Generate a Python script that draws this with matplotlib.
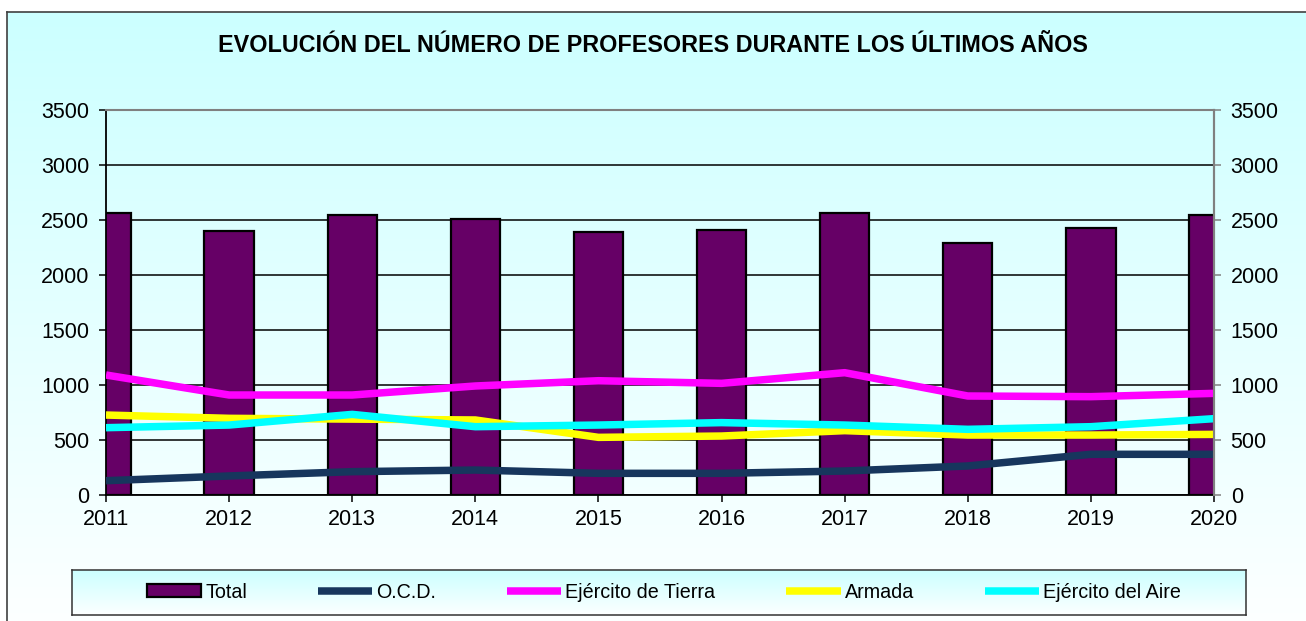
import numpy as np
import matplotlib
matplotlib.use("Agg")
import matplotlib.pyplot as plt
from matplotlib.colors import LinearSegmentedColormap

plt.rcParams['font.family'] = ['Liberation Sans', 'DejaVu Sans']

years = [2011, 2012, 2013, 2014, 2015, 2016, 2017, 2018, 2019, 2020]
total = [2561, 2403, 2545, 2512, 2394, 2409, 2561, 2294, 2427, 2548]
ocd = [130, 173, 212, 227, 197, 197, 218, 264, 370, 370]
tierra = [1091, 909, 909, 991, 1039, 1015, 1112, 900, 894, 924]
armada = [727, 697, 690, 682, 524, 536, 585, 545, 545, 551]
aire = [612, 636, 733, 621, 636, 658, 636, 597, 621, 694]
yticks = [0, 500, 1000, 1500, 2000, 2500, 3000, 3500]
title = "EVOLUCIÓN DEL NÚMERO DE PROFESORES DURANTE LOS ÚLTIMOS AÑOS"

W, H = 1306, 621
fig = plt.figure(figsize=(W / 100, H / 100), dpi=100)
fig.patch.set_facecolor('white')

def fx(px):
    return px / W

def fy(py):
    return 1 - py / H

grad_cmap = LinearSegmentedColormap.from_list('g', ['#CCFFFF', '#FFFFFF'])

# chart background with gradient
bg = fig.add_axes([fx(7), 0, 1 - fx(7), fy(12)])
bg.imshow(np.linspace(0, 1, 256).reshape(-1, 1), aspect='auto', cmap=grad_cmap,
          extent=[0, 1, 0, 1], origin='upper', vmin=0, vmax=1.05)
bg.set_xlim(0, 1)
bg.set_ylim(0, 1)
bg.set_xticks([])
bg.set_yticks([])
for s in ['right', 'bottom']:
    bg.spines[s].set_visible(False)
for s in ['left', 'top']:
    bg.spines[s].set_color('#404040')
    bg.spines[s].set_linewidth(1.2)
bg.set_zorder(0)

fig.text(0.5, fy(45), title, ha='center', va='center', fontsize=16.8, fontweight='bold')

# main axes
ax = fig.add_axes([fx(106), fy(495), fx(1214 - 106), (495 - 110) / H])
ax.patch.set_alpha(0)
ax.set_zorder(2)
x = np.array(years)
ax.bar(x, total, width=0.4, color='#660066', edgecolor='black', linewidth=1.6,
       label='Total', zorder=2)
ax.plot(x, ocd, color='#17365D', lw=5.4, label='O.C.D.', zorder=3, solid_capstyle='butt')
ax.plot(x, tierra, color='#FF00FF', lw=5.4, label='Ejército de Tierra', zorder=3, solid_capstyle='butt')
ax.plot(x, armada, color='#FFFF00', lw=5.4, label='Armada', zorder=3, solid_capstyle='butt')
ax.plot(x, aire, color='#00FFFF', lw=5.4, label='Ejército del Aire', zorder=3, solid_capstyle='butt')

ax.set_xlim(years[0], years[-1])
ax.set_ylim(0, 3500)
ax.set_yticks(yticks)
ax.set_xticks(years)
ax.set_xticklabels([str(y) for y in years])
ax.yaxis.grid(True, color='black', linewidth=1.1, zorder=1)
ax.set_axisbelow(True)
ax.tick_params(axis='both', labelsize=15.5, length=5, width=1.1, direction='out', colors='black')
ax.tick_params(axis='x', pad=5)
ax.tick_params(axis='y', pad=7)
ax.spines['left'].set_color('black')
ax.spines['bottom'].set_color('black')
ax.spines['left'].set_linewidth(1.3)
ax.spines['bottom'].set_linewidth(1.3)
ax.spines['top'].set_color('#808080')
ax.spines['right'].set_color('#808080')
ax.spines['top'].set_linewidth(1.5)
ax.spines['right'].set_linewidth(1.5)

ax2 = ax.twinx()
ax2.set_ylim(0, 3500)
ax2.set_yticks(yticks)
ax2.tick_params(axis='y', labelsize=15.5, length=5, width=1.1, direction='out', colors='#808080',
                labelcolor='black', pad=7)
for s in ['left', 'top', 'bottom']:
    ax2.spines[s].set_visible(False)
ax2.spines['right'].set_color('#808080')
ax2.spines['right'].set_linewidth(1.5)

# legend box with gradient
lb = fig.add_axes([fx(72), fy(615), fx(1246 - 72), (615 - 570) / H])
lb.imshow(np.linspace(0, 1, 256).reshape(-1, 1), aspect='auto', cmap=grad_cmap,
          extent=[0, 1, 0, 1], origin='upper', vmin=0, vmax=1.05)
lb.set_xlim(0, 1)
lb.set_ylim(0, 1)
lb.set_xticks([])
lb.set_yticks([])
for s in lb.spines.values():
    s.set_color('#333333')
    s.set_linewidth(1.1)
lb.set_zorder(3)

handles, labels = ax.get_legend_handles_labels()
order = [4, 0, 1, 2, 3]
handles = [handles[i] for i in order]
labels = [labels[i] for i in order]
leg = fig.legend(handles, labels, loc='center', bbox_to_anchor=(fx(664), fy(592)),
                 ncol=5, frameon=False, fontsize=14.2, handlelength=2.75,
                 handletextpad=0.2, columnspacing=3.6, handleheight=0.6)
leg.set_zorder(5)

fig.savefig('out.png', dpi=100)
